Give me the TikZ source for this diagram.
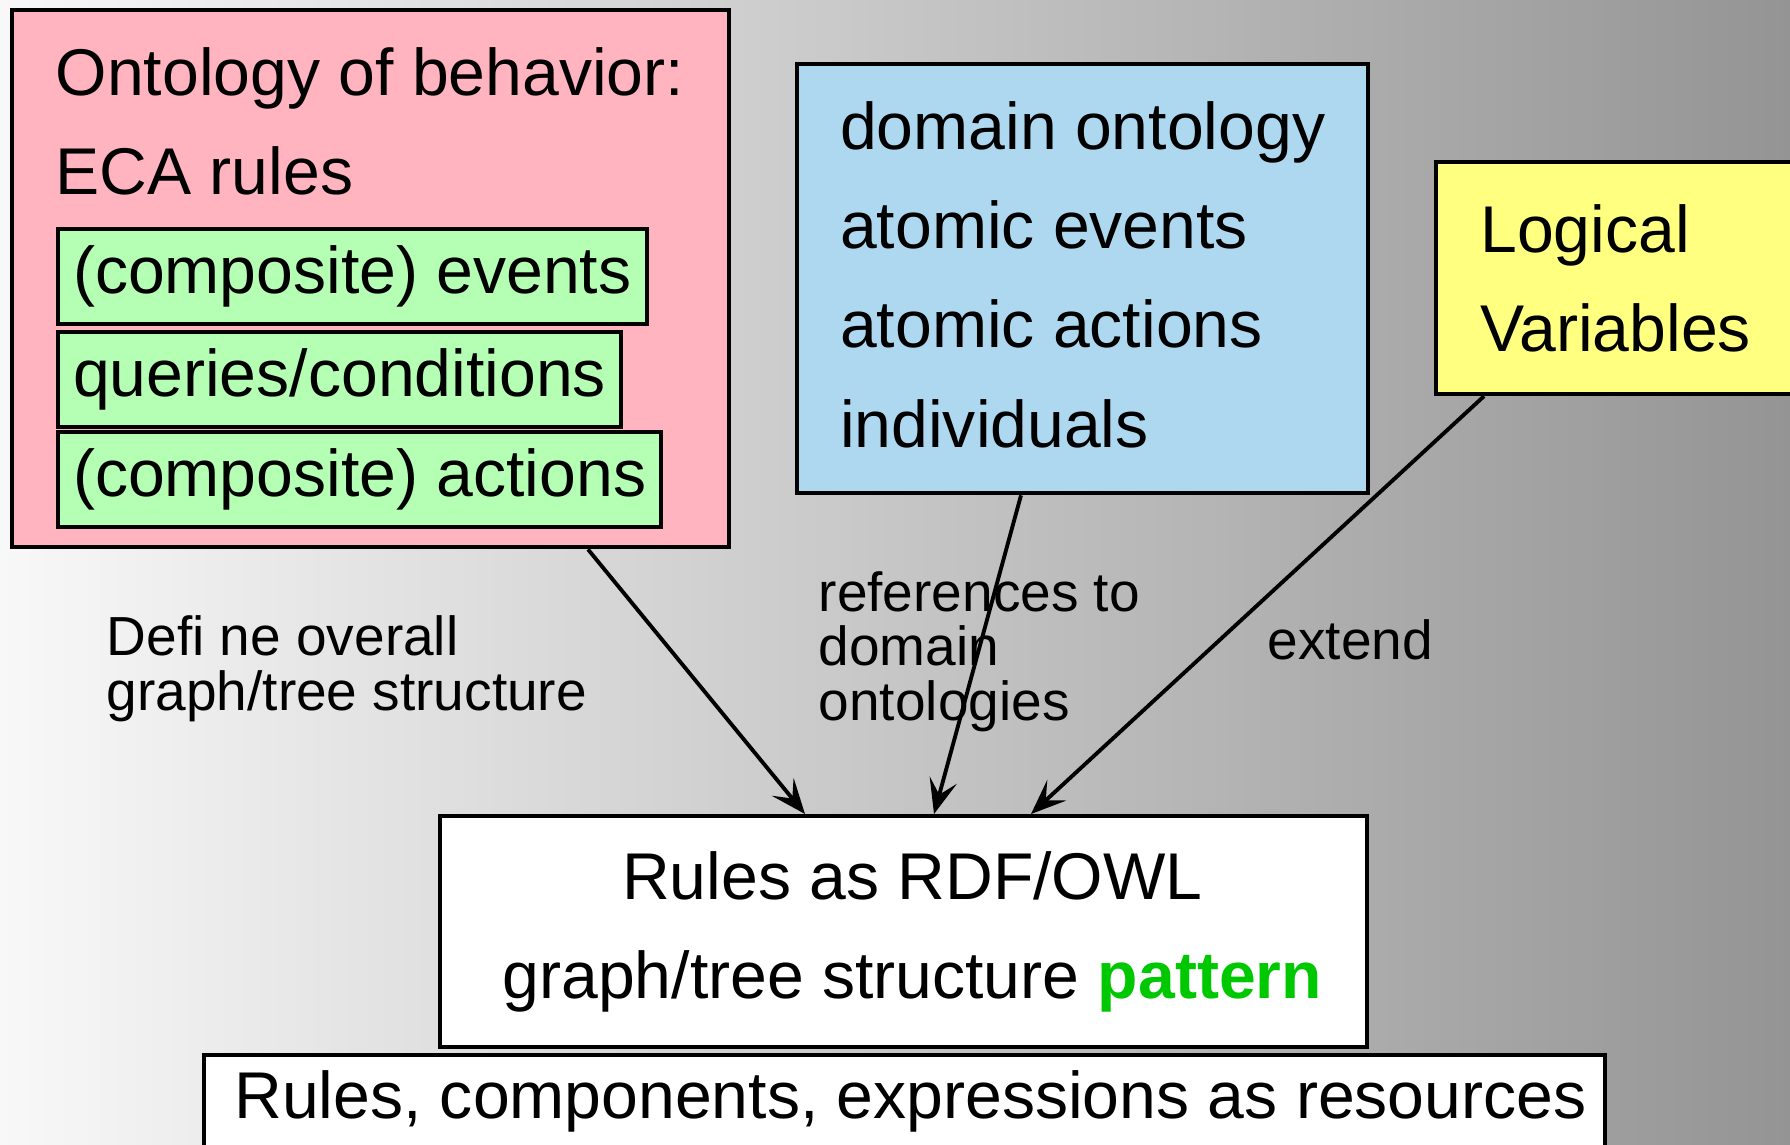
\documentclass[tikz,border=0pt]{standalone}
\usepackage{fontspec}
\setmainfont{Liberation Sans}
\usetikzlibrary{arrows.meta,calc}
\definecolor{bgleft}{RGB}{248,248,248}
\definecolor{bgright}{RGB}{148,148,148}
\definecolor{behaviorpink}{RGB}{255,180,192}
\definecolor{partgreen}{RGB}{180,255,180}
\definecolor{domainblue}{RGB}{174,216,240}
\definecolor{logicyellow}{RGB}{255,255,128}
\definecolor{patterngreen}{RGB}{0,200,0}
\newcommand{\bigtext}{\fontsize{18.8pt}{28.2pt}\selectfont}
\newcommand{\labeltext}{\fontsize{15.65pt}{15.4pt}\selectfont}
\tikzset{
  box/.style={draw=black, line width=1.15pt, inner sep=0pt, anchor=north west},
  partbox/.style={box, fill=partgreen, inner xsep=0.15cm, minimum height=0.95cm, font=\bigtext},
  plain/.style={inner sep=0pt, anchor=base west},
  arr/.style={-{Stealth[length=3.5mm,width=2.8mm,inset=1.5mm]}, line width=1.1pt},
}
\begin{document}
\begin{tikzpicture}[x=0.01cm, y=-0.01cm]
	\useasboundingbox (0,0) rectangle (1790,1145);
	\clip (0,0) rectangle (1790,1145);
	% Background
	\shade[left color=bgleft, right color=bgright] (0,0) rectangle (1790,1145);

	% Ontology of behavior
	\node[box, fill=behaviorpink, minimum width=7.17cm, minimum height=5.37cm] (behavior) at (10,8) {};
	\node[plain, font=\bigtext] (behaviortitle) at (55,95) {Ontology of behavior:};
	\node[plain, font=\bigtext] (eca) at (55,194) {ECA rules};
	\node[partbox] (events) at (56,227) {(composite) events};
	\node[partbox] (queries) at (56,330) {queries/conditions};
	\node[partbox] (actions) at (56,430) {(composite) actions};

	% Domain ontology
	\node[box, fill=domainblue, minimum width=5.71cm, minimum height=4.29cm] (domain) at (795,62) {};
	\node[inner sep=0pt, align=left, font=\bigtext] (domaintext) at ($(domain.center)+(0,-4)$)
		{domain ontology\\atomic events\\atomic actions\\individuals};

	% Logical variables
	\node[box, fill=logicyellow, minimum width=3.67cm, minimum height=2.32cm] (logic) at (1434,160) {};
	\node[inner sep=0pt, align=left, font=\bigtext] (logictext) at ($(logic.center)+(-4,0)$)
		{Logical\\Variables};

	% Rules as RDF/OWL
	\node[box, fill=white, minimum width=9.26cm, minimum height=2.31cm] (rdf) at (438,814) {};
	\node[inner sep=0pt, align=center, font=\bigtext] (rdftext) at ($(rdf.center)+(9,0)$)
		{Rules as RDF/OWL\\graph/tree structure \textbf{\color{patterngreen}pattern}};

	% Resources
	\node[box, fill=white, minimum width=14cm, minimum height=0.92cm] (resources) at (202,1053) {};
	\node[inner sep=0pt, font=\bigtext] (resourcestext) at ($(resources.center)+(6,0)$)
		{Rules, components, expressions as resources};

	% Arrows
	\draw[arr] ($(behavior.south west)+(578,0)$) -- ($(rdf.north west)+(367,0)$);
	\draw[arr] ($(domain.south west)+(226,0)$) -- ($(rdf.north west)+(496,0)$);
	\draw[arr] ($(logic.south west)+(50,0)$) -- ($(rdf.north west)+(593,0)$);

	% Labels
	\node[plain, align=left, font=\labeltext] (definelabel) at (106,710) {Defi ne overall\\graph/tree structure};
	\node[plain, align=left, font=\labeltext] (reflabel) at (818,720) {references to\\domain\\ontologies};
	\node[plain, font=\labeltext] (extendlabel) at (1267,659) {extend};
\end{tikzpicture}
\end{document}
